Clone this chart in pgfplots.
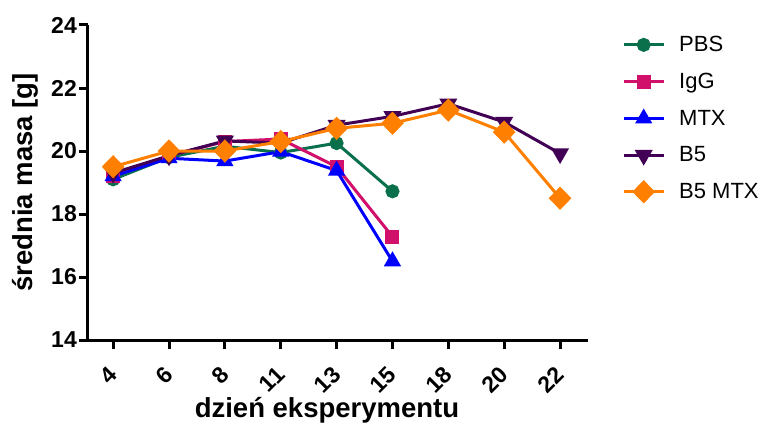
\documentclass[border=0pt]{standalone}
\usepackage{pgfplots}
\pgfplotsset{compat=1.18}
\usepackage{fontspec}
\setmainfont{Liberation Sans}
\definecolor{cPBS}{RGB}{10,112,76}
\definecolor{cIgG}{RGB}{208,16,106}
\definecolor{cMTX}{RGB}{0,0,255}
\definecolor{cB}{RGB}{66,0,84}
\definecolor{cBM}{RGB}{255,128,0}
\begin{document}
\begin{tikzpicture}
\path[use as bounding box] (-88pt,-86pt) rectangle (690pt,340pt);
\begin{axis}[
  at={(0pt,0pt)}, anchor=south west,
  scale only axis, width=500pt, height=315pt,
  xmin=-0.45, xmax=8.5, ymin=14, ymax=24,
  axis x line=bottom, axis y line=left,
  axis line style={-, line width=3pt},
  xtick={0,...,8},
  xticklabels={4,6,8,11,13,15,18,20,22},
  ytick={14,16,...,24},
  tick align=outside, major tick length=9pt,
  tick style={line width=3pt, black},
  minor tick num=0,
  /pgf/number format/assume math mode=true,
  tick label style={font=\bfseries\fontsize{23}{27}\selectfont},
  y tick label style={inner xsep=2pt},
  x tick label style={xshift=0pt, yshift=-22pt, rotate=45, anchor=east, inner sep=0pt},
  xlabel={dzień eksperymentu},
  ylabel={średnia masa [g]},
  label style={font=\bfseries\fontsize{27.5}{32}\selectfont},
  xlabel style={at={(axis description cs:0.478,-0.222)}, anchor=center},
  ylabel style={at={(axis description cs:-0.126,0.5)}, anchor=center},
  legend style={at={(axis description cs:1.062,0.977)}, anchor=north west,
    draw=none, fill=none, font=\fontsize{22}{26}\selectfont, row sep=16pt},
  legend cell align=left,
  legend image code/.code={\draw[mark repeat=2,mark phase=2] plot coordinates {(0pt,0pt)(20pt,0pt)(40pt,0pt)};\path (52pt,0pt);},
  every axis plot/.append style={line width=3pt},
  clip=false,
]
\addplot[color=cPBS, mark=*, mark size=5.5pt] coordinates {
(0,19.1) (1,19.8) (2,20.15) (3,19.95) (4,20.25) (5,18.72)};
\addlegendentry{PBS}
\addplot[color=cIgG, mark=square*, mark size=5.5pt] coordinates {
(0,19.2) (1,19.85) (2,20.3) (3,20.38) (4,19.5) (5,17.28)};
\addlegendentry{IgG}
\addplot[color=cMTX, mark=triangle*, mark size=7pt] coordinates {
(0,19.2) (1,19.77) (2,19.68) (3,19.98) (4,19.38) (5,16.5)};
\addlegendentry{MTX}
\addplot[color=cB, mark=triangle*, mark size=7.5pt, mark options={rotate=180}] coordinates {
(0,19.3) (1,19.85) (2,20.32) (3,20.25) (4,20.82) (5,21.1) (6,21.5) (7,20.92) (8,19.92)};
\addlegendentry{B5}
\addplot[color=cBM, mark=diamond*, mark size=9.5pt, mark options={xscale=1.3}] coordinates {
(0,19.5) (1,20.0) (2,20.0) (3,20.3) (4,20.72) (5,20.88) (6,21.3) (7,20.6) (8,18.5)};
\addlegendentry{B5 MTX}
\end{axis}
\end{tikzpicture}
\end{document}
